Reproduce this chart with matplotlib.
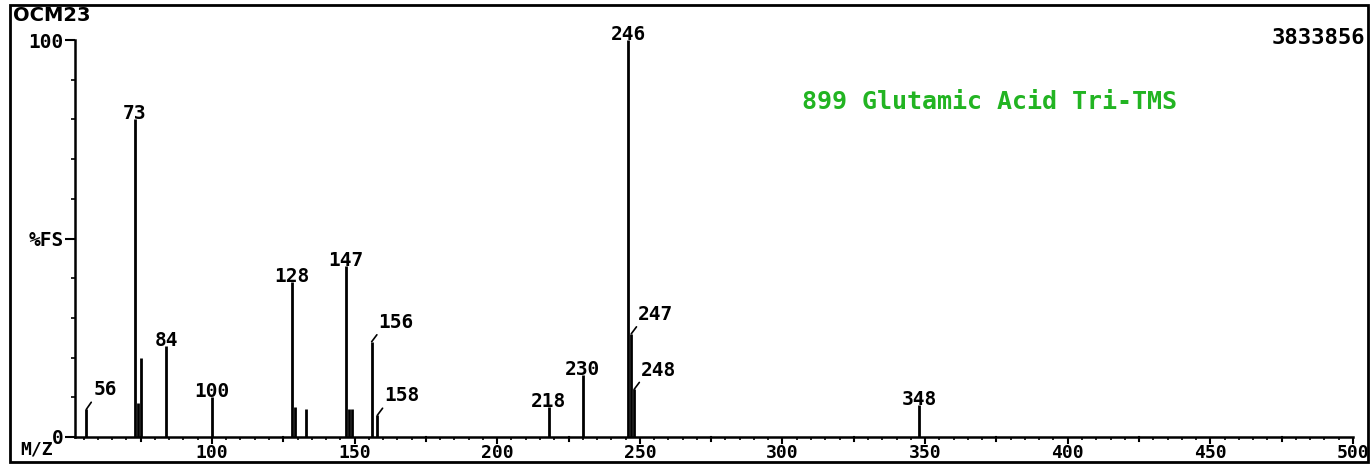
import matplotlib
matplotlib.use("Agg")
import matplotlib.pyplot as plt
from matplotlib.patches import Rectangle
from matplotlib.ticker import MultipleLocator

# peak list (m/z, % of full scale)
mz = [56, 73, 74, 75, 84, 100, 128, 129, 133, 147, 148, 149,
      156, 158, 218, 230, 246, 247, 248, 348]
intensity = [7, 80, 8.5, 20, 23, 10, 39, 7.5, 7, 43, 7, 7,
             24, 5.5, 7.5, 15.5, 100, 26, 12, 8]

# labelled peaks; the ones in leader_peaks get a slanted leader line
label_peaks = [73, 84, 100, 128, 147, 218, 230, 246, 348]
leader_peaks = [56, 156, 158, 247, 248]

x_ticks = [100, 150, 200, 250, 300, 350, 400, 450, 500]
y_ticks = [0, 50, 100]
y_tick_labels = ["0", "%FS", "100"]

sample_id = "OCM23"
full_scale = "3833856"
compound = "899 Glutamic Acid Tri-TMS"

mono = "DejaVu Sans Mono"
W, H = 1371, 466

fig = plt.figure(figsize=(W / 100, H / 100), dpi=100)
fig.patch.set_facecolor("white")

# axes box in pixel terms: y-axis at x=75, baseline at y=437, top at y=40
left, right, top, bottom = 75, 1353, 40, 437
ax = fig.add_axes([left / W, 1 - bottom / H, (right - left) / W, (bottom - top) / H])
ax.set_xlim(52, 500)
ax.set_ylim(0, 100)

ax.vlines(mz, 0, intensity, colors="black", linewidth=2)

for m, v in zip(mz, intensity):
    if m in label_peaks:
        ax.annotate(str(m), (m, v), xytext=(0, 4), textcoords="offset points",
                    ha="center", va="center", family=mono, weight="bold",
                    fontsize=14)
    elif m in leader_peaks:
        ax.annotate(str(m), (m, v), xytext=(5, 7), textcoords="offset points",
                    ha="left", va="bottom", family=mono, weight="bold",
                    fontsize=14,
                    arrowprops=dict(arrowstyle="-", color="black", lw=1.2,
                                    relpos=(0.05, 0.1), shrinkA=0, shrinkB=0))

for s in ["top", "right"]:
    ax.spines[s].set_visible(False)
ax.spines["left"].set_linewidth(1.8)
ax.spines["bottom"].set_linewidth(1.8)

ax.set_xticks(x_ticks)
ax.set_xticklabels([str(t) for t in x_ticks], family=mono, weight="bold", fontsize=13)
ax.xaxis.set_minor_locator(MultipleLocator(5))
ax.tick_params(axis="x", which="major", direction="out", length=5, width=1.5, pad=0)
ax.tick_params(axis="x", which="minor", direction="out", length=2.5, width=1.2)

ax.set_yticks(y_ticks)
ax.set_yticklabels(y_tick_labels, family=mono, weight="bold", fontsize=14)
ax.yaxis.set_minor_locator(MultipleLocator(10))
ax.tick_params(axis="y", which="major", direction="out", length=7, width=1.5, pad=1)
ax.tick_params(axis="y", which="minor", direction="out", length=3, width=1.2)

# medium ticks at the 25s
for t in [75, 125, 175, 225, 275, 325, 375, 425, 475]:
    ax.plot([t, t], [0, -1.1], color="black", lw=1.5, clip_on=False)

fig.text(37 / W, 1 - 450 / H, "M/Z", family=mono, weight="bold", fontsize=13,
         ha="center", va="center")

# outer frame of the printout
fig.patches.append(Rectangle((10 / W, 1 - 462 / H), 1358 / W, 457 / H,
                             transform=fig.transFigure, fill=False,
                             edgecolor="black", linewidth=2))

fig.text(13 / W, 1 - 6 / H, sample_id, family="DejaVu Sans", weight="bold",
         fontsize=14, ha="left", va="top")
fig.text(1365 / W, 1 - 38 / H, full_scale, family=mono, weight="bold",
         fontsize=16, ha="right", va="center")
fig.text(989 / W, 1 - 102 / H, compound, family=mono, weight="bold",
         fontsize=18, ha="center", va="center", color="#22b422")

fig.savefig("out.png", dpi=100)
